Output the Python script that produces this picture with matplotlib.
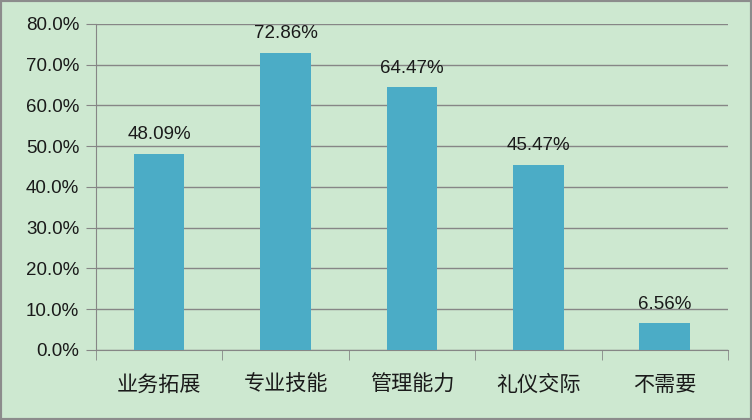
import numpy as np
import matplotlib.pyplot as plt
from matplotlib.ticker import FuncFormatter, FixedLocator

plt.rcParams['font.family'] = ['Noto Sans CJK SC', 'DejaVu Sans']

categories = ['业务拓展', '专业技能', '管理能力', '礼仪交际', '不需要']
values = [48.09, 72.86, 64.47, 45.47, 6.56]

bg = '#cde8d0'
bar_color = '#4bacc6'
grid_color = '#868686'
num_font = 'Liberation Sans'

fig = plt.figure(figsize=(7.52, 4.2), dpi=100, facecolor=bg)
ax = fig.add_axes([0.1277, 0.1667, 0.8403, 0.7762])
ax.set_facecolor(bg)

x = np.arange(len(categories))
ax.bar(x, values, width=0.4, color=bar_color, zorder=3)
for xi, v in zip(x, values):
    ax.text(xi, v + 2.6, f'{v:.2f}%', ha='center', va='bottom', fontsize=13.5,
            family=num_font, color='#1a1a1a')

ax.set_xlim(-0.5, len(categories) - 0.5)
ax.set_ylim(0, 80)
ax.set_yticks(np.arange(0, 81, 10))
ax.yaxis.set_major_formatter(FuncFormatter(lambda v, p: f'{v:.1f}%'))
ax.yaxis.grid(True, color=grid_color, linewidth=1, zorder=0)

ax.set_xticks(x)
ax.set_xticklabels(categories, fontsize=15.2, color='#1a1a1a')
ax.xaxis.set_minor_locator(FixedLocator(np.arange(-0.5, len(categories), 1)))
ax.tick_params(axis='x', which='major', length=0, pad=17)
ax.tick_params(axis='x', which='minor', length=7, color=grid_color)
ax.tick_params(axis='y', length=7, color=grid_color, labelsize=13.5, pad=5)
for lbl in ax.get_yticklabels():
    lbl.set_family(num_font)
    lbl.set_color('#1a1a1a')

for s in ['top', 'right']:
    ax.spines[s].set_visible(False)
for s in ['left', 'bottom']:
    ax.spines[s].set_color(grid_color)

fig.patches.append(plt.Rectangle((0, 0), 1, 1, transform=fig.transFigure,
                                 fill=False, edgecolor='#8c8c8c', linewidth=3))

fig.savefig('out.png', dpi=100, facecolor=bg)
